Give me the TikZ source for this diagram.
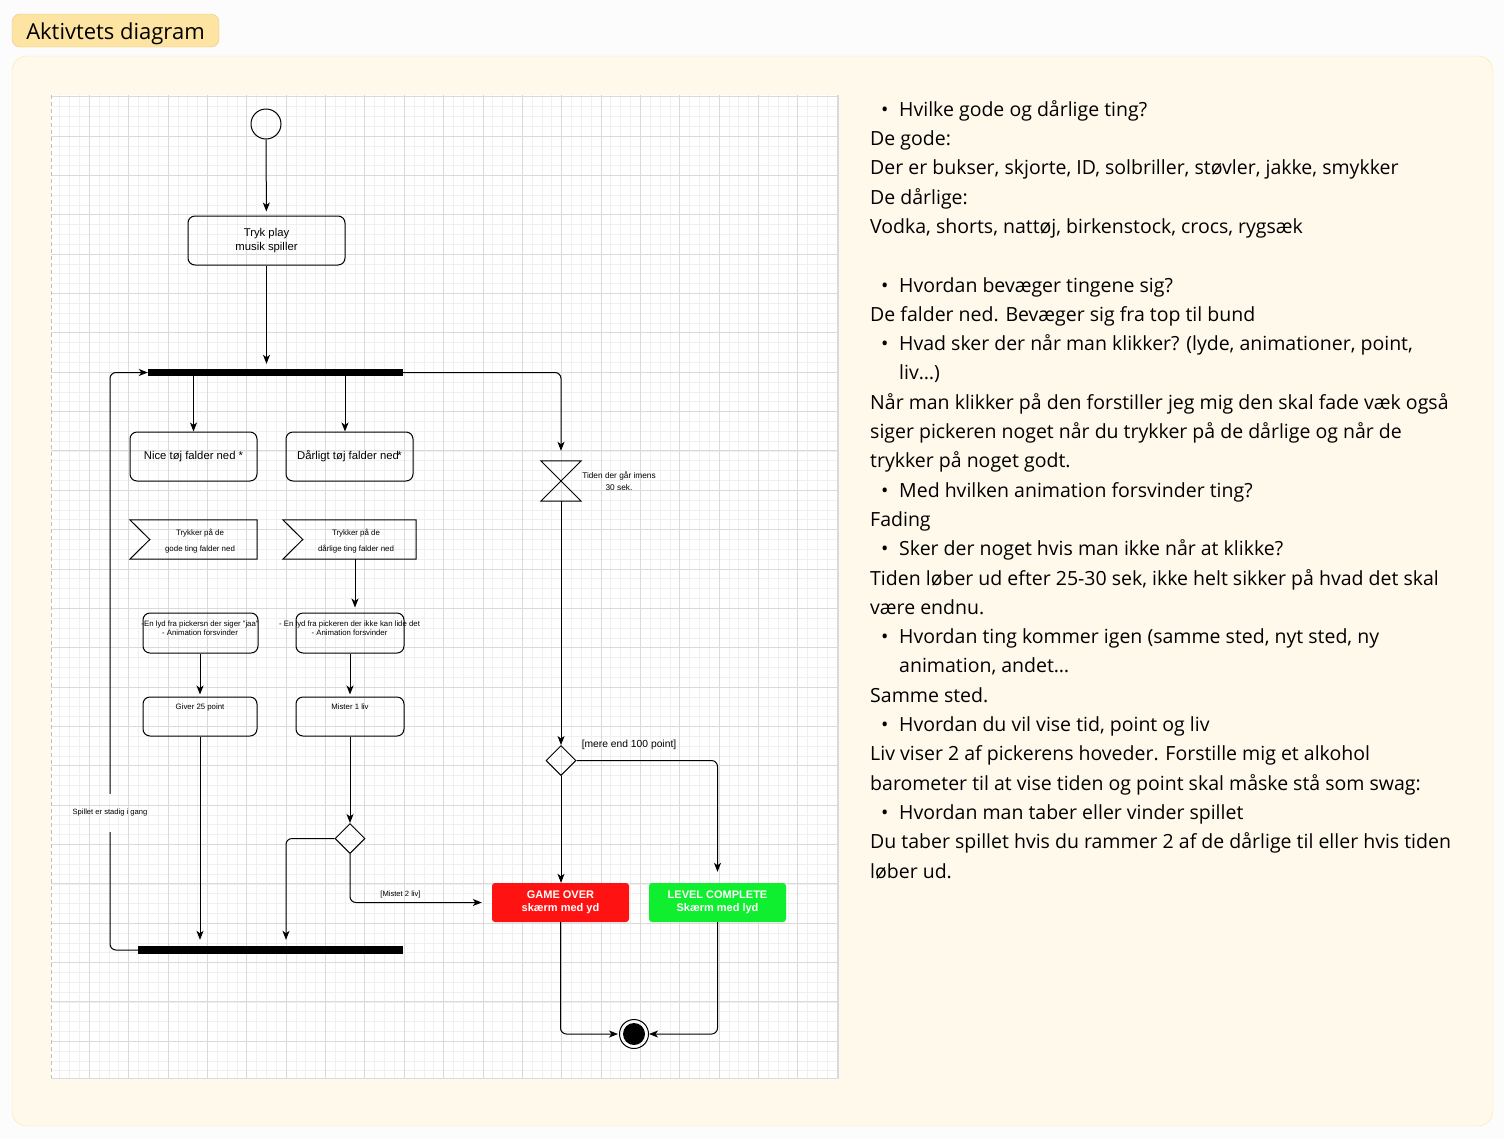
\documentclass[tikz,border=0pt]{standalone}
\usepackage{fontspec}
\setmainfont{Liberation Sans}
\newfontfamily\notesfont{Open Sans}
\usetikzlibrary{shapes.geometric,arrows.meta,positioning}
\definecolor{pagebg}{HTML}{FCFCFC}
\definecolor{panelfill}{HTML}{FFF9EC}
\definecolor{paneldraw}{HTML}{FCE5A2}
\definecolor{tagfill}{HTML}{FDE4A2}
\definecolor{tagdraw}{HTML}{E5CC87}
\definecolor{gridminor}{HTML}{F0F0F0}
\definecolor{gridmajor}{HTML}{DADADA}
\definecolor{overred}{HTML}{FF1212}
\definecolor{levelgreen}{HTML}{10EE30}
\newcommand{\notebullet}{\makebox[29pt][l]{\hspace{11pt}\textbullet}}
\tikzset{
  flow/.style={line width=1pt, >={Stealth[length=9pt,width=7pt,inset=2.5pt]}},
  action/.style={draw, rounded corners=7, line width=1pt, inner sep=0, align=center,
    font=\fontsize{11.3}{14}\selectfont},
  bar/.style={fill=black, inner sep=0},
  decision/.style={diamond, draw, line width=1pt, minimum size=30, inner sep=0},
  tinytext/.style={inner sep=0, align=center, font=\fontsize{7.8}{9}\selectfont},
  screen/.style={rounded corners=3, minimum width=137, minimum height=39, inner sep=0,
    align=center, text=white, font=\bfseries\fontsize{11}{13}\selectfont},
  notes/.style={anchor=north west, inner sep=0, align=left,
    font=\notesfont\fontsize{19.5}{29.3}\selectfont},
}
\begin{document}
\begin{tikzpicture}[x=1pt,y=-1pt]
	\useasboundingbox (0,0) rectangle (1504,1138);
	\fill[pagebg] (0,0) rectangle (1504,1138);
	% panel and title tag
	\draw[paneldraw, fill=panelfill, rounded corners=15] (12,56) rectangle (1493,1126);
	\node[draw=tagdraw, fill=tagfill, rounded corners=8, minimum width=207, minimum height=33,
		inner sep=0, text height=18pt, text depth=0pt,
		font=\notesfont\fontsize{22}{26}\selectfont] (title) at (115.5,30.5) {Aktivtets diagram};
	% grid
	\fill[white] (51,95) rectangle (838,1078);
	\foreach \gx in {1,...,80} \draw[gridminor, line width=0.6pt] ({49.9+9.84*\gx},95) -- ++(0,983);
	\foreach \gy in {0,...,99} \draw[gridminor, line width=0.6pt] (51,{96.6+9.84*\gy}) -- ++(787,0);
	\foreach \gx in {0,...,19} \draw[gridmajor, line width=0.8pt] ({89.3+39.36*\gx},95) -- ++(0,983);
	\foreach \gy in {0,...,24} \draw[gridmajor, line width=0.8pt] (51,{96.6+39.36*\gy}) -- ++(787,0);
	\draw[gridmajor] (838,95) -- (838,1078) -- (51,1078);
	\draw[gray!50, dash pattern=on 4pt off 3pt] (51,95) -- (51,1078);

	% nodes
	\node[circle, draw, line width=1pt, minimum size=30, inner sep=0] (start) at (266,124) {};
	\node[action, minimum width=157, minimum height=49] (tryk) at (266.5,240.5) {Tryk play\\musik spiller};
	\node[bar, minimum width=255, minimum height=7] (fork) at (275.5,372.5) {};
	\node[action, minimum width=127, minimum height=49] (nice) at (193.5,456.5) {Nice tøj falder ned *};
	\node[action, minimum width=127, minimum height=49] (daarligt) at (349.5,456.5) {Dårligt tøj falder ned\kern-1.5pt*};

	\node[minimum width=127, minimum height=39, inner sep=0] (goodsig) at (193.5,539.5) {};
	\draw[line width=1pt] (goodsig.north west) -- (goodsig.north east) -- (goodsig.south east)
		-- (goodsig.south west) -- ([xshift=20pt]goodsig.west) -- cycle;
	\node[tinytext, font=\fontsize{7.9}{16}\selectfont] (goodsigtxt) at (200,541) {Trykker på de\\gode ting falder ned};
	\node[minimum width=133, minimum height=39, inner sep=0] (badsig) at (349.5,539.5) {};
	\draw[line width=1pt] (badsig.north west) -- (badsig.north east) -- (badsig.south east)
		-- (badsig.south west) -- ([xshift=20pt]badsig.west) -- cycle;
	\node[tinytext, font=\fontsize{7.9}{16}\selectfont] (badsigtxt) at (356,541) {Trykker på de\\dårlige ting falder ned};

	\node[action, minimum width=115, minimum height=40] (lydgood) at (200.5,633) {};
	\node[tinytext] (lydgoodtxt) at (200,628.5) {-En lyd fra pickersn der siger "jaa"\\- Animation forsvinder};
	\node[action, minimum width=108, minimum height=40] (lydbad) at (350,633) {};
	\node[tinytext] (lydbadtxt) at (349.5,628.5) {- En lyd fra pickeren der ikke kan lide det\\- Animation forsvinder};

	\node[action, minimum width=114, minimum height=39] (giver) at (200,716.5) {};
	\node[tinytext] (givertxt) at (200,707) {Giver 25 point};
	\node[action, minimum width=108, minimum height=39] (mister) at (350,716.5) {};
	\node[tinytext] (mistertxt) at (350,707) {Mister 1 liv};

	\node[decision] (choice) at (350,838.5) {};
	\node[bar, minimum width=265, minimum height=8] (join) at (270.5,950) {};
	\node[tinytext, font=\fontsize{7.6}{9}\selectfont, minimum height=38] (loopl) at (110,813) {Spillet er stadig i gang};
	\node[tinytext, font=\fontsize{7.6}{9}\selectfont] (lostl) at (400.5,895) {[Mistet 2 liv]};

	\node[minimum size=40, inner sep=0] (timer) at (561,481) {};
	\draw[line width=1pt] (timer.north west) -- (timer.north east) -- (timer.south west) -- (timer.south east) -- cycle;
	\node[tinytext, font=\fontsize{8.3}{12}\selectfont] (timertxt) at (619,481) {Tiden der går imens\\30 sek.};
	\node[decision] (score) at (561,760.5) {};
	\node[tinytext, font=\fontsize{10.3}{12}\selectfont] (scorel) at (629,745) {[mere end 100 point]};

	\node[screen, fill=overred] (gameover) at (560.5,902.5) {GAME OVER\\skærm med yd};
	\node[screen, fill=levelgreen] (level) at (717.5,902.5) {LEVEL COMPLETE\\Skærm med lyd};
	\node[circle, draw, line width=1pt, minimum size=29, inner sep=0] (final) at (634,1034) {};
	\fill (final.center) circle (11pt);

	% connectors
	\begin{scope}[flow]
		\draw[->, shorten >=4pt] (start) -- (tryk);
		\draw[->, shorten >=5pt] (tryk.south) -- (tryk.south |- fork.north);
		\draw[->] (fork.south -| nice.north) -- (nice.north);
		\draw[->] ([xshift=-4.5pt]daarligt.north |- fork.south) -- ([xshift=-4.5pt]daarligt.north);
		\draw[->, rounded corners=6, shorten >=10pt] (fork.east) -| (timer.north);
		\draw[->, shorten >=5pt] ([xshift=5.5pt]badsig.south) -- ([xshift=5.5pt]badsig.south |- lydbad.north);
		\draw[->, shorten >=2pt] (giver.north |- lydgood.south) -- (giver.north);
		\draw[->, shorten >=2pt] (lydbad) -- (mister);
		\draw[->, shorten >=6pt] (giver.south) -- (giver.south |- join.north);
		\draw[->] (mister) -- (choice);
		\draw[->, rounded corners=6, shorten >=6pt] (choice.west) -| ([xshift=15.5pt]join.north);
		\draw[->, rounded corners=6, shorten >=10pt] (choice.south) |- (gameover.west);
		\draw[rounded corners=6] (join.west) -| (loopl.south);
		\draw[->, rounded corners=6] (loopl.north) |- (fork.west);
		\draw[->] (timer.south) -- (score.north);
		\draw[->, rounded corners=6, shorten >=11pt] (score.east) -| (level.north);
		\draw[->] (score.south) -- (score.south |- gameover.north);
		\draw[->, rounded corners=6, shorten >=1pt] (gameover.south) |- (final.west);
		\draw[->, rounded corners=6] (level.south) |- (final.east);
	\end{scope}

	% notes
	\node[notes] (notes) at (870,95.5) {\strut\notebullet Hvilke gode og dårlige ting?\\
		De gode:\\
		Der er bukser, skjorte, ID, solbriller, støvler, jakke, smykker\\
		De dårlige:\\
		Vodka, shorts, nattøj, birkenstock, crocs, rygsæk\\
		\mbox{}\\
		\notebullet Hvordan bevæger tingene sig?\\
		De falder ned. Bevæger sig fra top til bund\\
		\notebullet Hvad sker der når man klikker? (lyde, animationer, point,\\
		\hspace*{29pt}liv…)\\
		Når man klikker på den forstiller jeg mig den skal fade væk også\\
		siger pickeren noget når du trykker på de dårlige og når de\\
		trykker på noget godt.\\
		\notebullet Med hvilken animation forsvinder ting?\\
		Fading\\
		\notebullet Sker der noget hvis man ikke når at klikke?\\
		Tiden løber ud efter 25-30 sek, ikke helt sikker på hvad det skal\\
		være endnu.\\
		\notebullet Hvordan ting kommer igen (samme sted, nyt sted, ny\\
		\hspace*{29pt}animation, andet…\\
		Samme sted.\\
		\notebullet Hvordan du vil vise tid, point og liv\\
		Liv viser 2 af pickerens hoveder. Forstille mig et alkohol\\
		barometer til at vise tiden og point skal måske stå som swag:\\
		\notebullet Hvordan man taber eller vinder spillet\\
		Du taber spillet hvis du rammer 2 af de dårlige til eller hvis tiden\\
		løber ud.};
\end{tikzpicture}
\end{document}
